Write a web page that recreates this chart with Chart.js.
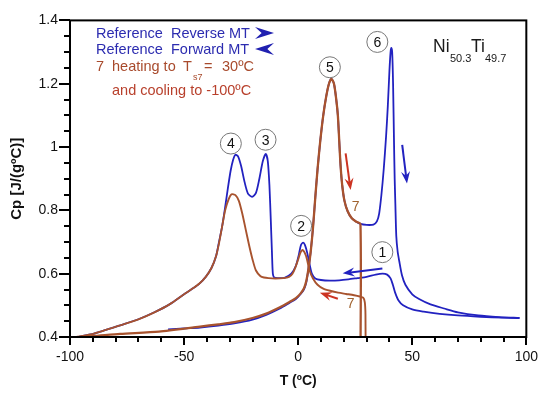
<!DOCTYPE html>
<html>
<head>
<meta charset="utf-8">
<script src="https://cdn.jsdelivr.net/npm/chart.js@4.4.1/dist/chart.umd.min.js"></script>
<style>
html,body{margin:0;padding:0;background:#fff;}
canvas{display:block;}
</style>
</head>
<body>
<canvas id="c" width="550" height="395"></canvas>
<script>
// ---- Data (T in ºC, Cp in J/(gºC)) ----
// Brown: run 7 heating to Ts7 = 30ºC (ends with drop at switch to cooling)
const brownHeatT  = [-97,-90,-78,-61,-43,-35,-28,-20,-14,-8,-4,-1,1,2.5,3.5,4.5,5.5,6.5,7.5,8.5,9.7,11,12.3,13.5,14.6,15.7,16.7,17.4,18,18.6,19.3,20.3,21.7,23.5,25.5,27.3,27.3];
const brownHeatCp = [0.400,0.403,0.410,0.417,0.433,0.440,0.447,0.460,0.474,0.494,0.510,0.523,0.537,0.553,0.575,0.615,0.670,0.745,0.840,0.930,1.020,1.100,1.160,1.200,1.215,1.200,1.150,1.100,1.020,0.940,0.880,0.830,0.797,0.775,0.764,0.757,0.300];
// Brown: run 7 cooling to -100ºC
const brownCoolT  = [29.6,29.5,29.2,28.5,27,24.5,21,17.5,14,11,8.5,6.5,5,3.5,2,1,0,-1.2,-2.5,-4,-6.5,-10,-13,-15,-16.5,-18.5,-20,-21.5,-23,-24.5,-26,-27.5,-29.2,-30.5,-32,-33.3,-34.7,-36,-38,-40.5,-43.4,-46.3,-50,-56.4,-63,-70,-78,-85.3,-91,-97];
const brownCoolCp = [0.300,0.470,0.510,0.524,0.528,0.532,0.536,0.540,0.546,0.553,0.565,0.585,0.610,0.655,0.675,0.667,0.645,0.620,0.600,0.590,0.586,0.585,0.586,0.588,0.592,0.610,0.645,0.690,0.740,0.790,0.830,0.848,0.851,0.835,0.800,0.750,0.696,0.655,0.618,0.590,0.568,0.553,0.535,0.503,0.478,0.456,0.437,0.420,0.408,0.400];
// Blue: reference reverse MT (heating)
const blueHeatT  = [-57,-50,-43,-35,-28,-20,-14,-8,-4,-1,1,2.5,3.5,4.5,5.5,6.5,7.5,8.5,9.7,11,12.3,13.5,14.6,15.7,16.7,17.4,18,18.6,19.3,20.3,21.7,23.5,25.5,27.3,30,33,34.5,35.5,36.5,37.5,38.5,39.3,40,40.5,40.8,41.2,41.6,42,42.3,42.6,43,43.6,44.3,45.5,47,50,53,58,64,70,79,88,97];
const blueHeatCp = [0.424,0.427,0.430,0.436,0.443,0.455,0.470,0.490,0.507,0.520,0.535,0.550,0.570,0.615,0.670,0.745,0.840,0.930,1.020,1.100,1.160,1.200,1.215,1.200,1.150,1.100,1.020,0.940,0.880,0.830,0.797,0.775,0.764,0.757,0.754,0.755,0.765,0.790,0.850,0.930,1.030,1.130,1.240,1.300,1.313,1.300,1.200,1.020,0.900,0.820,0.720,0.670,0.640,0.595,0.565,0.535,0.520,0.503,0.490,0.478,0.468,0.463,0.460];
// Blue: reference forward MT (cooling)
const blueCoolT  = [97,90,80,70,62,55,50,46,44,42.5,41.5,40.5,39,37,34,30,26,22,18,14,10,7.5,6,5,4,3,2.2,1.2,0.3,-1,-3,-6,-9,-10.5,-11.1,-11.5,-12,-12.6,-13.3,-14.2,-15.5,-17,-18.5,-20.2,-22,-23.5,-25,-26.3,-27.5,-28.5,-29.6,-30.8,-32,-33.3,-34.7,-36,-38,-40.5,-43.4,-46.3,-50,-56.4,-63,-70,-78,-85.3,-91,-97];
const blueCoolCp = [0.460,0.461,0.464,0.468,0.473,0.480,0.487,0.500,0.515,0.540,0.565,0.585,0.597,0.600,0.597,0.590,0.586,0.582,0.579,0.578,0.580,0.585,0.600,0.630,0.665,0.690,0.698,0.690,0.660,0.625,0.600,0.587,0.586,0.588,0.600,0.670,0.770,0.880,0.955,0.978,0.955,0.900,0.855,0.843,0.853,0.890,0.940,0.970,0.976,0.960,0.925,0.870,0.810,0.750,0.700,0.655,0.618,0.590,0.568,0.553,0.535,0.503,0.478,0.456,0.437,0.420,0.408,0.400];

const xTicks = [-100,-50,0,50,100];
const yTicks = [0.4,0.6,0.8,1.0,1.2,1.4];

// circled labels [text, T, Cp]
const circleLabels = [['1',36.9,0.668],['2',1.3,0.751],['3',-14.3,1.023],['4',-29.5,1.011],['5',13.9,1.252],['6',34.7,1.332]];

const BLUE = '#2222c0';
const BROWN = '#a8532e';
const RED = '#cc3322';

function pts(T, C){ return T.map((t,i)=>({x:t, y:C[i]})); }

const FONT = '"Liberation Sans", Arial, Helvetica, sans-serif';

function arrowHead(ctx, x1, y1, x2, y2, len, wid, color){
  const a = Math.atan2(y2-y1, x2-x1);
  ctx.save();
  ctx.translate(x2,y2); ctx.rotate(a);
  ctx.fillStyle = color;
  ctx.beginPath();
  ctx.moveTo(0,0);
  ctx.lineTo(-len, -wid/2);
  ctx.lineTo(-len*0.65, 0);
  ctx.lineTo(-len, wid/2);
  ctx.closePath();
  ctx.fill();
  ctx.restore();
}
function arrow(ctx, x1,y1,x2,y2,color,lw){
  ctx.save();
  ctx.strokeStyle = color; ctx.lineWidth = lw;
  const a = Math.atan2(y2-y1,x2-x1);
  ctx.beginPath(); ctx.moveTo(x1,y1); ctx.lineTo(x2-Math.cos(a)*6, y2-Math.sin(a)*6); ctx.stroke();
  ctx.restore();
  arrowHead(ctx,x1,y1,x2,y2,12,9,color);
}

const deco = {
  id:'deco',
  afterDraw(chart){
    const ctx = chart.ctx, a = chart.chartArea;
    const xs = chart.scales.x, ys = chart.scales.y;
    const X = v=>xs.getPixelForValue(v), Y = v=>ys.getPixelForValue(v);
    ctx.save();
    // frame
    ctx.strokeStyle = '#000'; ctx.lineWidth = 2;
    ctx.strokeRect(a.left, a.top, a.right-a.left, a.bottom-a.top);
    // ticks
    ctx.lineWidth = 2;
    ctx.beginPath();
    for(let v=-100; v<=100; v+=10){
      const px = Math.round(X(v));
      const major = v%50===0;
      ctx.moveTo(px, a.bottom); ctx.lineTo(px, a.bottom + (major?8:5));
    }
    for(let k=0;k<=20;k++){
      const v = 0.4 + k*0.05;
      const py = Math.round(Y(v));
      const major = k%4===0;
      ctx.moveTo(a.left, py); ctx.lineTo(a.left - (major?11:6), py);
    }
    ctx.stroke();

    // axis titles
    ctx.fillStyle = '#111';
    ctx.font = 'bold 14px '+FONT;
    ctx.textAlign='center'; ctx.textBaseline='middle';
    ctx.fillText('T (ºC)', (a.left+a.right)/2, 381);
    ctx.save();
    ctx.translate(17, (a.top+a.bottom)/2);
    ctx.rotate(-Math.PI/2);
    ctx.font = 'bold 15px '+FONT;
    ctx.fillText('Cp [J/(gºC)]', 0, 0);
    ctx.restore();

    // circled labels
    ctx.font = '14px '+FONT;
    circleLabels.forEach(([t,T,C])=>{
      const px = X(T), py = Y(C);
      ctx.beginPath(); ctx.arc(px,py,10.5,0,Math.PI*2);
      ctx.fillStyle='#fff'; ctx.fill();
      ctx.strokeStyle='#777'; ctx.lineWidth=1; ctx.stroke();
      ctx.fillStyle='#111'; ctx.textAlign='center'; ctx.textBaseline='middle';
      ctx.fillText(t, px, py+1);
    });

    // "7" labels
    ctx.fillStyle = '#a0622e'; ctx.font = '14px '+FONT;
    ctx.fillText('7', X(25.2), Y(0.809));
    ctx.fillText('7', X(23), Y(0.503));

    // arrows
    arrow(ctx, X(45.6), Y(1.007), X(47.7), Y(0.885), BLUE, 2);
    arrow(ctx, X(20.8), Y(0.98), X(23), Y(0.864), RED, 2);
    arrow(ctx, X(36.9), Y(0.616), X(19.5), Y(0.601), BLUE, 2);
    arrow(ctx, X(17.4), Y(0.521), X(9.5), Y(0.54), RED, 2);

    // legend block
    ctx.textAlign='left'; ctx.textBaseline='alphabetic';
    ctx.font = '14.5px '+FONT;
    ctx.fillStyle = '#2c2cb0';
    ctx.fillText('Reference  Reverse MT', 96, 38);
    ctx.fillText('Reference  Forward MT', 96, 54);
    arrowHead(ctx, 255, 33, 274, 33, 19, 12, '#2020b0');
    arrowHead(ctx, 274, 49, 255, 49, 19, 12, '#2020b0');
    ctx.fillStyle = '#a84a2c';
    ctx.fillText('7', 96, 71);
    ctx.fillText('heating to', 112, 71);
    ctx.fillText('T', 183, 71);
    ctx.font = '9px '+FONT;
    ctx.fillText('s7', 193, 80);
    ctx.font = '14.5px '+FONT;
    ctx.fillText('=', 204, 71);
    ctx.fillText('30ºC', 222, 71);
    ctx.fillStyle = '#b8402c';
    ctx.fillText('and cooling to -100ºC', 112, 95);

    // alloy label
    ctx.fillStyle = '#1a1a1a';
    ctx.font = '17.5px '+FONT;
    ctx.fillText('Ni', 433, 52);
    ctx.font = '11px '+FONT;
    ctx.fillText('50.3', 450, 62);
    ctx.font = '17.5px '+FONT;
    ctx.fillText('Ti', 471, 52);
    ctx.font = '11px '+FONT;
    ctx.fillText('49.7', 485, 62);
    ctx.restore();
  }
};

const common = {showLine:true, pointRadius:0, tension:0.25, fill:false};

new Chart(document.getElementById('c'), {
  type:'scatter',
  data:{datasets:[
    Object.assign({label:'7 heating', data:pts(brownHeatT,brownHeatCp), borderColor:BROWN, borderWidth:2.3, order:1}, common),
    Object.assign({label:'7 cooling', data:pts(brownCoolT,brownCoolCp), borderColor:BROWN, borderWidth:1.9, order:1}, common),
    Object.assign({label:'Reference Reverse MT', data:pts(blueHeatT,blueHeatCp), borderColor:BLUE, borderWidth:1.8, order:5}, common),
    Object.assign({label:'Reference Forward MT', data:pts(blueCoolT,blueCoolCp), borderColor:BLUE, borderWidth:1.8, order:5}, common)
  ]},
  options:{
    responsive:false, animation:false,
    layout:{padding:{left:0,right:19,top:10,bottom:0}},
    plugins:{legend:{display:false}, tooltip:{enabled:false}},
    scales:{
      x:{type:'linear', min:-100, max:100,
         afterFit(s){ s.height = 58; },
         afterBuildTicks(s){ s.ticks = xTicks.map(v=>({value:v})); },
         grid:{display:false, drawTicks:false}, border:{display:false},
         ticks:{color:'#111', font:{family:FONT,size:14}, padding:12, maxRotation:0, autoSkip:false}},
      y:{type:'linear', min:0.4, max:1.4,
         afterFit(s){ s.width = 70; },
         afterBuildTicks(s){ s.ticks = yTicks.map(v=>({value:v})); },
         grid:{display:false, drawTicks:false}, border:{display:false},
         ticks:{color:'#111', font:{family:FONT,size:14}, padding:12, autoSkip:false,
                callback:v=>String(Math.round(v*10)/10)}}
    }
  },
  plugins:[deco]
});
</script>
</body>
</html>
